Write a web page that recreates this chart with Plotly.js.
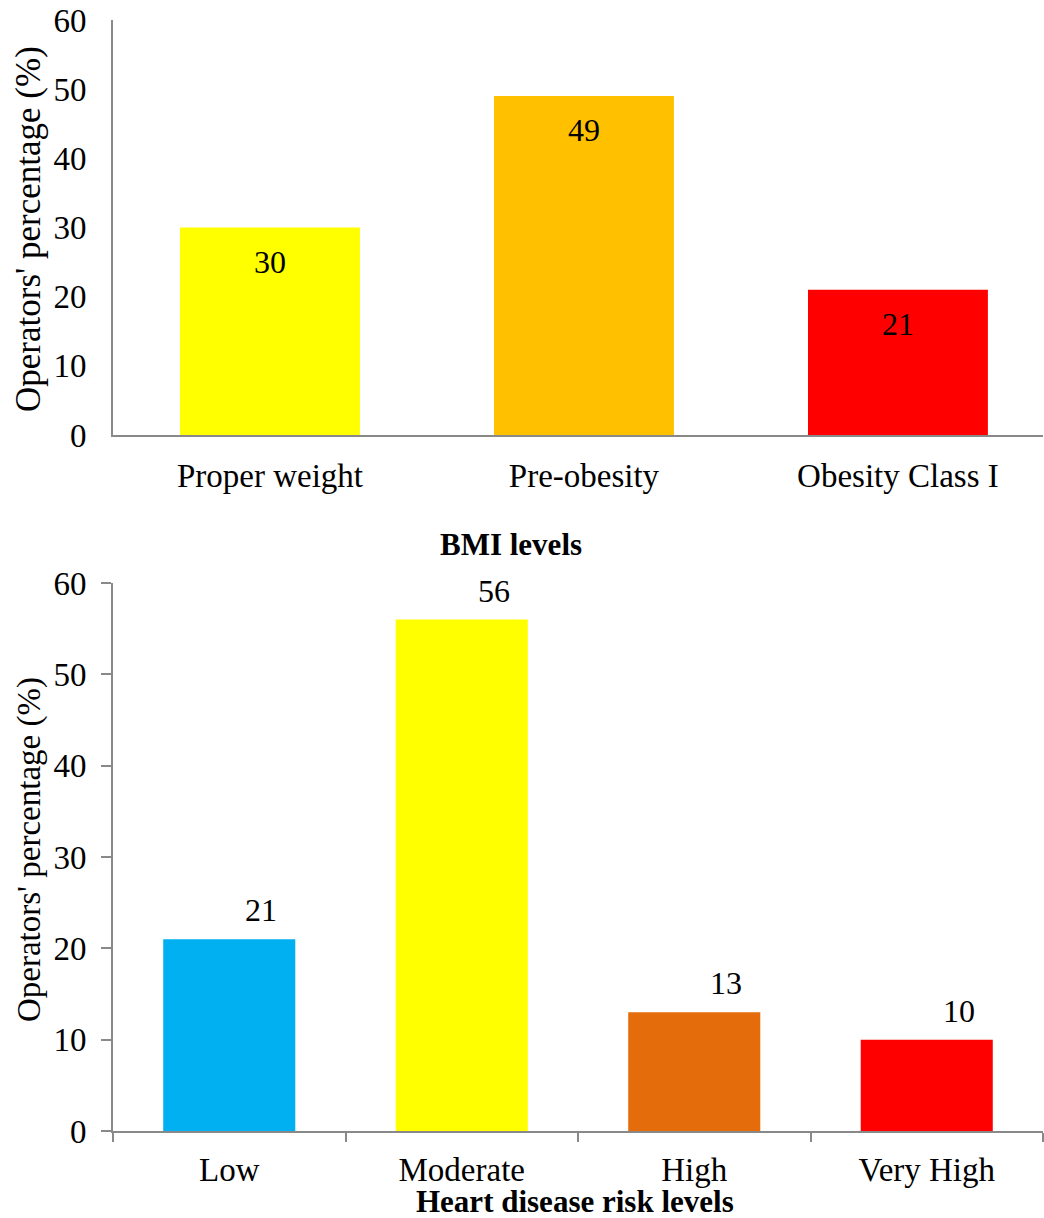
<!DOCTYPE html>
<html>
<head>
<meta charset="utf-8">
<script src="https://cdn.plot.ly/plotly-3.0.1.min.js"></script>
<style>html,body{margin:0;padding:0;background:#fff;}#chart{width:1044px;height:1218px;}</style>
</head>
<body>
<div id="chart"></div>
<script>
// Top chart: BMI levels
const bmiCategories = ["Proper weight", "Pre-obesity", "Obesity Class I"];
const bmiValues = [30, 49, 21];
const bmiColors = ["#FFFF00", "#FFC000", "#FF0000"];

// Bottom chart: heart disease risk levels
const riskCategories = ["Low", "Moderate", "High", "Very High"];
const riskValues = [21, 56, 13, 10];
const riskColors = ["#00B0F0", "#FFFF00", "#E46C0A", "#FF0000"];

const yTickVals = [0, 10, 20, 30, 40, 50, 60];
const yTitle = "Operators' percentage (%)";
const topXTitle = "BMI levels";
const bottomXTitle = "Heart disease risk levels";

const FONT = "Liberation Serif";
const AXC = "#898989";

const traces = [
  {type: "bar", x: bmiCategories, y: bmiValues, xaxis: "x", yaxis: "y",
   marker: {color: bmiColors}, width: 0.573, hoverinfo: "none", showlegend: false},
  {type: "bar", x: riskCategories, y: riskValues, xaxis: "x2", yaxis: "y2",
   marker: {color: riskColors}, width: 0.568, hoverinfo: "none", showlegend: false}
];

const annotations = [];
bmiCategories.forEach((c, i) => annotations.push({
  x: c, y: bmiValues[i], xref: "x", yref: "y", text: String(bmiValues[i]),
  showarrow: false, yshift: -34, font: {family: FONT, size: 32, color: "#000"}
}));
riskCategories.forEach((c, i) => annotations.push({
  x: c, y: riskValues[i], xref: "x2", yref: "y2", text: String(riskValues[i]),
  showarrow: false, yshift: 29, xshift: 32, font: {family: FONT, size: 32, color: "#000"}
}));
annotations.push({xref: "paper", yref: "paper", x: (28 - 113) / 930, y: (1218 - 229) / 1218,
  xanchor: "center", yanchor: "middle",
  text: yTitle, textangle: -90, showarrow: false, font: {family: FONT, size: 35, color: "#000"}});
annotations.push({xref: "paper", yref: "paper", x: (30 - 113) / 930, y: (1218 - 850) / 1218,
  xanchor: "center", yanchor: "middle",
  text: yTitle, textangle: -90, showarrow: false, font: {family: FONT, size: 33, color: "#000"}});
annotations.push({xref: "paper", yref: "paper", x: (511 - 113) / 930, y: (1218 - 545) / 1218,
  xanchor: "center", yanchor: "middle",
  text: "<b>" + topXTitle + "</b>", showarrow: false, font: {family: FONT, size: 31, color: "#000"}});
annotations.push({xref: "paper", yref: "paper", x: (575 - 113) / 930, y: (1218 - 1201) / 1218,
  xanchor: "center", yanchor: "middle",
  text: "<b>" + bottomXTitle + "</b>", showarrow: false, font: {family: FONT, size: 31, color: "#000"}});

const layout = {
  width: 1044, height: 1218,
  margin: {l: 113, r: 1, t: 0, b: 0},
  paper_bgcolor: "#fff", plot_bgcolor: "#fff",
  font: {family: FONT, color: "#000"},
  xaxis: {domain: [0, 1], anchor: "y", range: [-0.5, 2.462], showline: true, linecolor: AXC, linewidth: 2,
    ticks: "", showgrid: false, zeroline: false, tickfont: {family: FONT, size: 33, color: "#000"},
    ticklabelstandoff: 10, fixedrange: true},
  yaxis: {domain: [(1218 - 435) / 1218, (1218 - 20) / 1218], anchor: "x", range: [0, 60], tickvals: yTickVals,
    showline: true, linecolor: AXC, linewidth: 2, ticks: "", showgrid: false, zeroline: false,
    tickfont: {family: FONT, size: 33, color: "#000"}, ticklabelstandoff: 18},
  xaxis2: {domain: [0, 1], anchor: "y2", range: [-0.5, 3.5], showline: true, linecolor: AXC, linewidth: 2,
    ticks: "outside", tickson: "boundaries", ticklen: 9, tickwidth: 2, tickcolor: AXC,
    showgrid: false, zeroline: false, tickfont: {family: FONT, size: 33, color: "#000"}, ticklabelstandoff: 8},
  yaxis2: {domain: [(1218 - 1131) / 1218, (1218 - 583) / 1218], anchor: "x2", range: [0, 60], tickvals: yTickVals,
    showline: true, linecolor: AXC, linewidth: 2, ticks: "outside", ticklen: 10, tickwidth: 2, tickcolor: AXC,
    showgrid: false, zeroline: false, tickfont: {family: FONT, size: 33, color: "#000"}, ticklabelstandoff: 8},
  annotations: annotations,
  bargap: 0.4
};

Plotly.newPlot("chart", traces, layout, {displayModeBar: false, staticPlot: true});
</script>
</body>
</html>
